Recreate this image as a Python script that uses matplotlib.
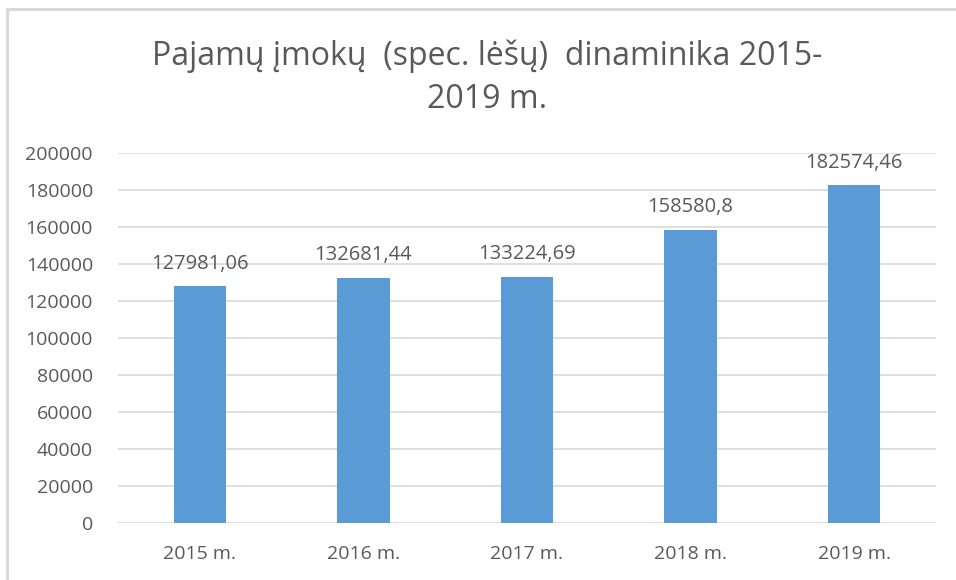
import matplotlib
matplotlib.use("Agg")
import matplotlib.pyplot as plt
from matplotlib.patches import Rectangle

years = ["2015 m.", "2016 m.", "2017 m.", "2018 m.", "2019 m."]
values = [127981.06, 132681.44, 133224.69, 158580.8, 182574.46]
value_labels = ["127981,06", "132681,44", "133224,69", "158580,8", "182574,46"]
yticks = list(range(0, 200001, 20000))

title = "Pajamų įmokų  (spec. lėšų)  dinaminika 2015-\n2019 m."

txt = "#595959"
blue = "#5B9BD5"
grid = "#D9D9D9"

plt.rcParams["font.family"] = ["Open Sans", "DejaVu Sans"]

W, H = 956, 580
fig = plt.figure(figsize=(W / 100, H / 100), dpi=100)
fig.patch.set_facecolor("white")

# outer chart frame (only the top and left edges show in the original)
fig.patches.append(Rectangle((7 / W, -0.05), 1.2, 1 - 9 / H + 0.05, transform=fig.transFigure,
                             fill=False, edgecolor="#D9D9D9", lw=2.2))

left, right, top, bottom = 118, 936, 153, 523
ax = fig.add_axes([left / W, 1 - bottom / H, (right - left) / W, (bottom - top) / H])
x = range(len(years))
ax.bar(x, values, width=0.32, color=blue, zorder=2)
for i, (v, lab) in enumerate(zip(values, value_labels)):
    ax.annotate(lab, (i, v), xytext=(0, 9), textcoords="offset points",
                ha="center", va="bottom", fontsize=14.5, color=txt)

ax.set_xlim(-0.5, len(years) - 0.5)
ax.set_ylim(0, 200000)
ax.set_yticks(yticks)
ax.set_yticklabels([str(t) for t in yticks])
ax.set_xticks(list(x))
ax.set_xticklabels(years)
ax.tick_params(axis="both", length=0, labelsize=14, labelcolor=txt)
ax.tick_params(axis="y", pad=18)
ax.tick_params(axis="x", pad=16)
ax.grid(axis="y", color=grid, lw=1.2, zorder=0)
for s in ax.spines.values():
    s.set_visible(False)

fig.text(487 / W, 1 - 78 / H, title, ha="center", va="center", fontsize=23,
         color=txt, linespacing=1.4)

fig.savefig("out.png", dpi=100)
